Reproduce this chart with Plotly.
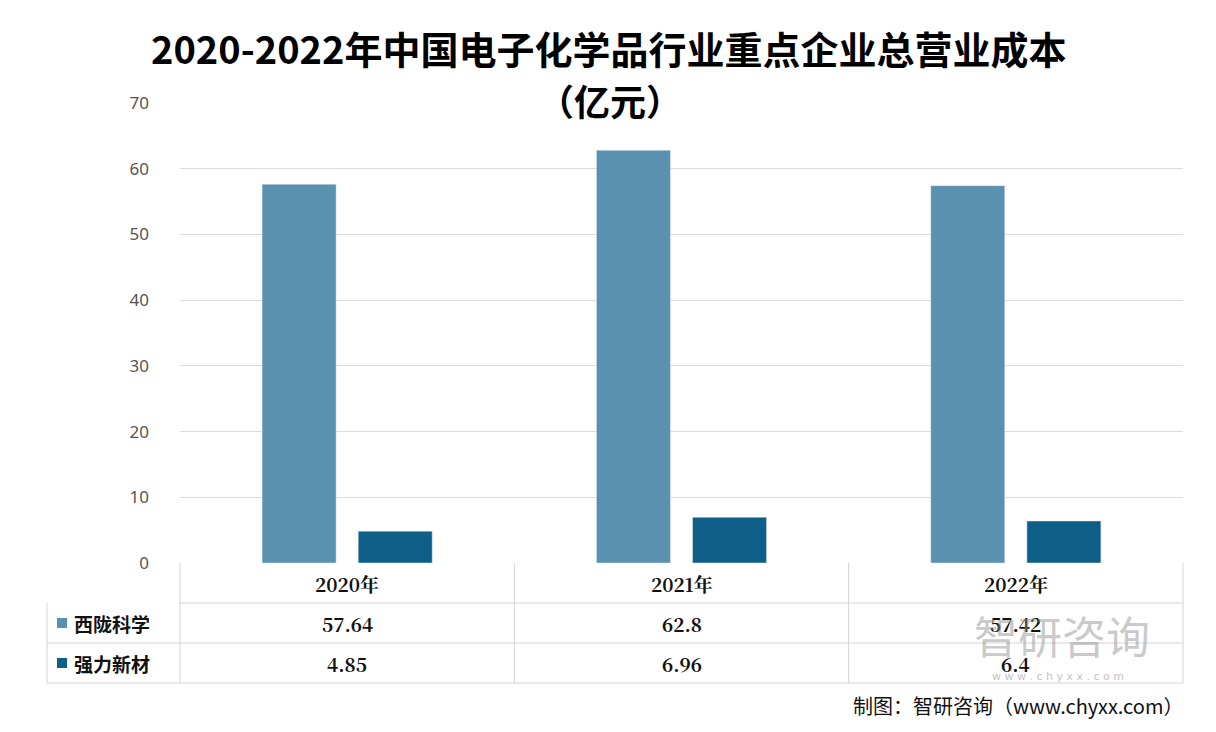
import plotly.graph_objects as go

years = ["2020年", "2021年", "2022年"]
series_names = ["西陇科学", "强力新材"]
xilong = [57.64, 62.8, 57.42]
qiangli = [4.85, 6.96, 6.4]
colors = ["#5a90b0", "#0e5f87"]
series_vals = [xilong, qiangli]

fig = go.Figure()
for name, vals, c in zip(series_names, series_vals, colors):
    fig.add_bar(x=years, y=vals, name=name, marker_color=c, showlegend=False)

PH = 460.0
PW = 1003.0
def px(x):
    return (x - 180) / PW
def py(y):
    return (563 - y) / PH

rh = 40 / PH
lx = px(47)
line = dict(color="#d4d4d4", width=1)
shapes = []
for k in range(1, 4):
    shapes.append(dict(type="line", xref="paper", yref="paper", x0=lx if k > 1 else 0, x1=1, y0=-k * rh, y1=-k * rh, line=line))
for xv in [0, 1/3, 2/3, 1]:
    shapes.append(dict(type="line", xref="paper", yref="paper", x0=xv, x1=xv, y0=0, y1=-3 * rh, line=line))
shapes.append(dict(type="line", xref="paper", yref="paper", x0=lx, x1=lx, y0=-rh, y1=-3 * rh, line=line))

ann = []
def A(x, y, text, f, xanchor="center"):
    ann.append(dict(x=x, y=y, xref="paper", yref="paper", text=text, showarrow=False,
                    xanchor=xanchor, yanchor="middle", font=f))

font = dict(family="Noto Serif CJK SC, Noto Sans CJK SC", size=19, color="#111")
for i, y in enumerate(years):
    A((i + 0.5) / 3, -0.5 * rh, "<b>" + y + "</b>", font)
for r, (name, vals, c) in enumerate(zip(series_names, series_vals, colors)):
    yc = -(1.5 + r) * rh
    shapes.append(dict(type="rect", xref="paper", yref="paper", x0=px(57), x1=px(67),
                       y0=yc - 5 / PH, y1=yc + 5 / PH, fillcolor=c, line=dict(width=0)))
    A(px(72), yc, "<b>" + name + "</b>", dict(family="Noto Sans CJK SC", size=19, color="#111"), "left")
    for i, v in enumerate(vals):
        A((i + 0.5) / 3, yc, f"<b>{v:g}</b>", font)

A(px(1062), py(635), "智研咨询", dict(family="Noto Sans CJK SC", size=44, color="rgba(150,150,150,0.5)"))
A(px(1058), py(676), "w w w . c h y x x . c o m", dict(family="DejaVu Sans", size=11, color="rgba(150,150,150,0.6)"))
A(px(1185), py(705), "制图：智研咨询（www.chyxx.com）", dict(family="Noto Sans CJK SC", size=20, color="#111"), "right")
A(px(608), py(47), "<b>2020-2022年中国电子化学品行业重点企业总营业成本</b>", dict(family="Noto Sans CJK SC", size=38, color="#000"))
A(px(610), py(100), "<b>（亿元）</b>", dict(family="Noto Sans CJK SC", size=36, color="#000"))

fig.update_layout(
    width=1208, height=724, autosize=False,
    margin=dict(l=172, r=33, t=95, b=169),
    paper_bgcolor="white", plot_bgcolor="white",
    barmode="group", bargap=0.425, bargroupgap=0.23,
    xaxis=dict(showticklabels=False, showline=False),
    yaxis=dict(range=[0, 70], dtick=10, gridcolor="#dcdcdc", zeroline=False, ticklabelstandoff=30,
               tickfont=dict(family="Noto Sans", size=17, color="#555")),
    shapes=shapes, annotations=ann,
)
fig.write_html("out.html")
